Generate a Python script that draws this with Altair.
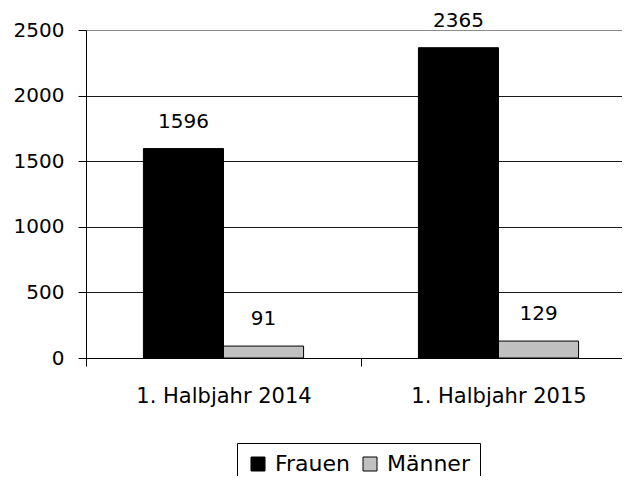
import altair as alt
import pandas as pd

categories = ["1. Halbjahr 2014", "1. Halbjahr 2015"]
series = ["Frauen", "Männer"]
frauen = [1596, 2365]
maenner = [91, 129]
colors = ["#000000", "#c0c0c0"]
y_ticks = [0, 500, 1000, 1500, 2000, 2500]

rows = []
for i, c in enumerate(categories):
    rows.append({"Zeitraum": c, "Geschlecht": series[0], "Anzahl": frauen[i]})
    rows.append({"Zeitraum": c, "Geschlecht": series[1], "Anzahl": maenner[i]})
df = pd.DataFrame(rows)

FONT = "DejaVu Sans"

x = alt.X(
    "Zeitraum:N", sort=categories, title=None,
    scale=alt.Scale(paddingInner=0, paddingOuter=0, range=[0, 550]),
    axis=alt.Axis(labelAngle=0, labelFontSize=21, labelFont=FONT, labelColor="black",
                  tickBand="extent", tickSize=8, tickColor="black", domainColor="black",
                  labelPadding=19, grid=False),
)
xo = alt.XOffset("Geschlecht:N", sort=series,
                 scale=alt.Scale(paddingOuter=0.717, paddingInner=0))
y = alt.Y(
    "Anzahl:Q", title=None,
    scale=alt.Scale(domain=[0, 2500], nice=False),
    axis=alt.Axis(values=y_ticks, format="d", labelFontSize=20, labelFont=FONT,
                  labelColor="black", tickSize=8, tickColor="black", domainColor="black",
                  labelPadding=14, grid=True,
                  gridColor={"condition": {"test": "datum.value === 2500", "value": "#8c8c8c"},
                             "value": "#1a1a1a"},
                  gridOpacity=1),
)

bars = alt.Chart(df).mark_bar(stroke="black", strokeWidth=1).encode(
    x=x, xOffset=xo, y=y,
    color=alt.Color(
        "Geschlecht:N",
        scale=alt.Scale(domain=series, range=colors),
        legend=alt.Legend(title=None, orient="none", legendX=151, legendY=413,
                          direction="horizontal", strokeColor="black", padding=10,
                          symbolType="square", symbolSize=196, symbolStrokeColor="black",
                          symbolStrokeWidth=1, labelFontSize=22, labelFont=FONT,
                          labelColor="black", labelOffset=6, columnPadding=8),
    ),
)

labels = alt.Chart(df).mark_text(baseline="alphabetic", dy=-21, fontSize=20, font=FONT,
                                 color="black").encode(
    x=x, xOffset=xo, y=y, text="Anzahl:Q"
)

chart = alt.layer(bars, labels).properties(
    width=536, height=328,
    autosize=alt.AutoSizeParams(type="none"),
    padding={"left": 78, "top": 22, "right": 0, "bottom": 118},
).configure_view(stroke=None)

chart.save("out.html", embed_options={"renderer": "svg", "actions": False})
